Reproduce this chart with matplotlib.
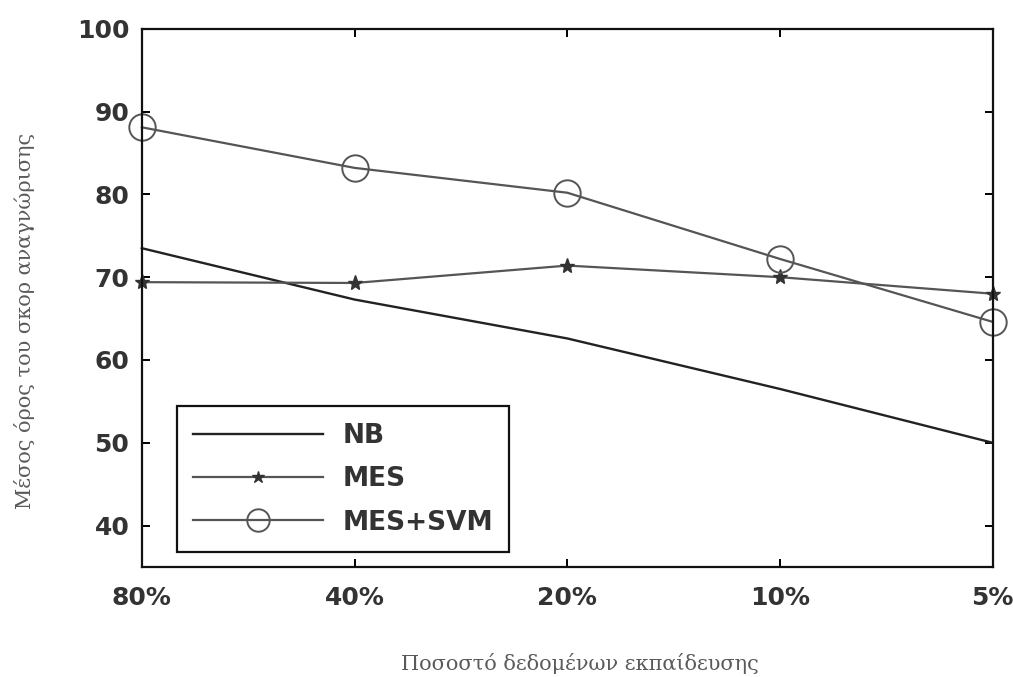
import matplotlib
matplotlib.use("Agg")
import matplotlib.pyplot as plt

# training-set fractions and mean recognition scores
categories = ["80%", "40%", "20%", "10%", "5%"]
nb = [73.5, 67.3, 62.6, 56.5, 50.0]
mes = [69.4, 69.3, 71.4, 70.0, 68.0]
mes_svm = [88.1, 83.2, 80.2, 72.2, 64.6]

x = list(range(len(categories)))

fig = plt.figure(figsize=(10.13, 6.77), dpi=100)
ax = fig.add_axes([0.140, 0.1625, 0.840, 0.795])

ax.plot(x, nb, color="#222222", lw=1.7, label="NB", clip_on=False)
ax.plot(x, mes, color="#555555", lw=1.6, marker="*", ms=11,
        mfc="#333333", mec="#333333", label="MES", clip_on=False)
ax.plot(x, mes_svm, color="#555555", lw=1.6, marker="o", ms=19,
        mfc="none", mec="#555555", mew=1.4, label="MES+SVM", clip_on=False)

ax.set_xlim(0, len(categories) - 1)
ax.set_ylim(35, 100)
ax.set_xticks(x)
ax.set_xticklabels(categories)
ax.set_yticks([40, 50, 60, 70, 80, 90, 100])

tick_font = matplotlib.font_manager.FontProperties(
    family="DejaVu Sans", weight="bold", size=18)
for lab in ax.get_xticklabels() + ax.get_yticklabels():
    lab.set_fontproperties(tick_font)
    lab.set_color("#333333")

ax.tick_params(direction="in", length=6, width=1.4, right=True, top=True)
ax.tick_params(axis="x", pad=14)
ax.tick_params(axis="y", pad=9)
for s in ax.spines.values():
    s.set_linewidth(1.6)
    s.set_color("#111111")

label_style = dict(family="DejaVu Serif", size=15, color="#5a5a5a")
fig.text(25 / 1013, 1 - 321 / 677, "Μέσος όρος του σκορ αναγνώρισης",
         rotation=90, ha="center", va="center", **label_style)
fig.text(580 / 1013, 1 - 664 / 677, "Ποσοστό δεδομένων εκπαίδευσης",
         ha="center", va="center", **label_style)

leg = ax.legend(loc="lower left", bbox_to_anchor=(177 / 1013, 1 - 552 / 677),
                bbox_transform=fig.transFigure, handlelength=4.9,
                prop=dict(family="DejaVu Sans", weight="bold", size=19),
                fancybox=False, edgecolor="#111111", framealpha=1,
                borderpad=0.62, labelspacing=0.66, handletextpad=0.75,
                borderaxespad=0, markerscale=0.85)
leg.get_frame().set_linewidth(1.6)
for t in leg.get_texts():
    t.set_color("#333333")

fig.savefig("out.png", dpi=100)
